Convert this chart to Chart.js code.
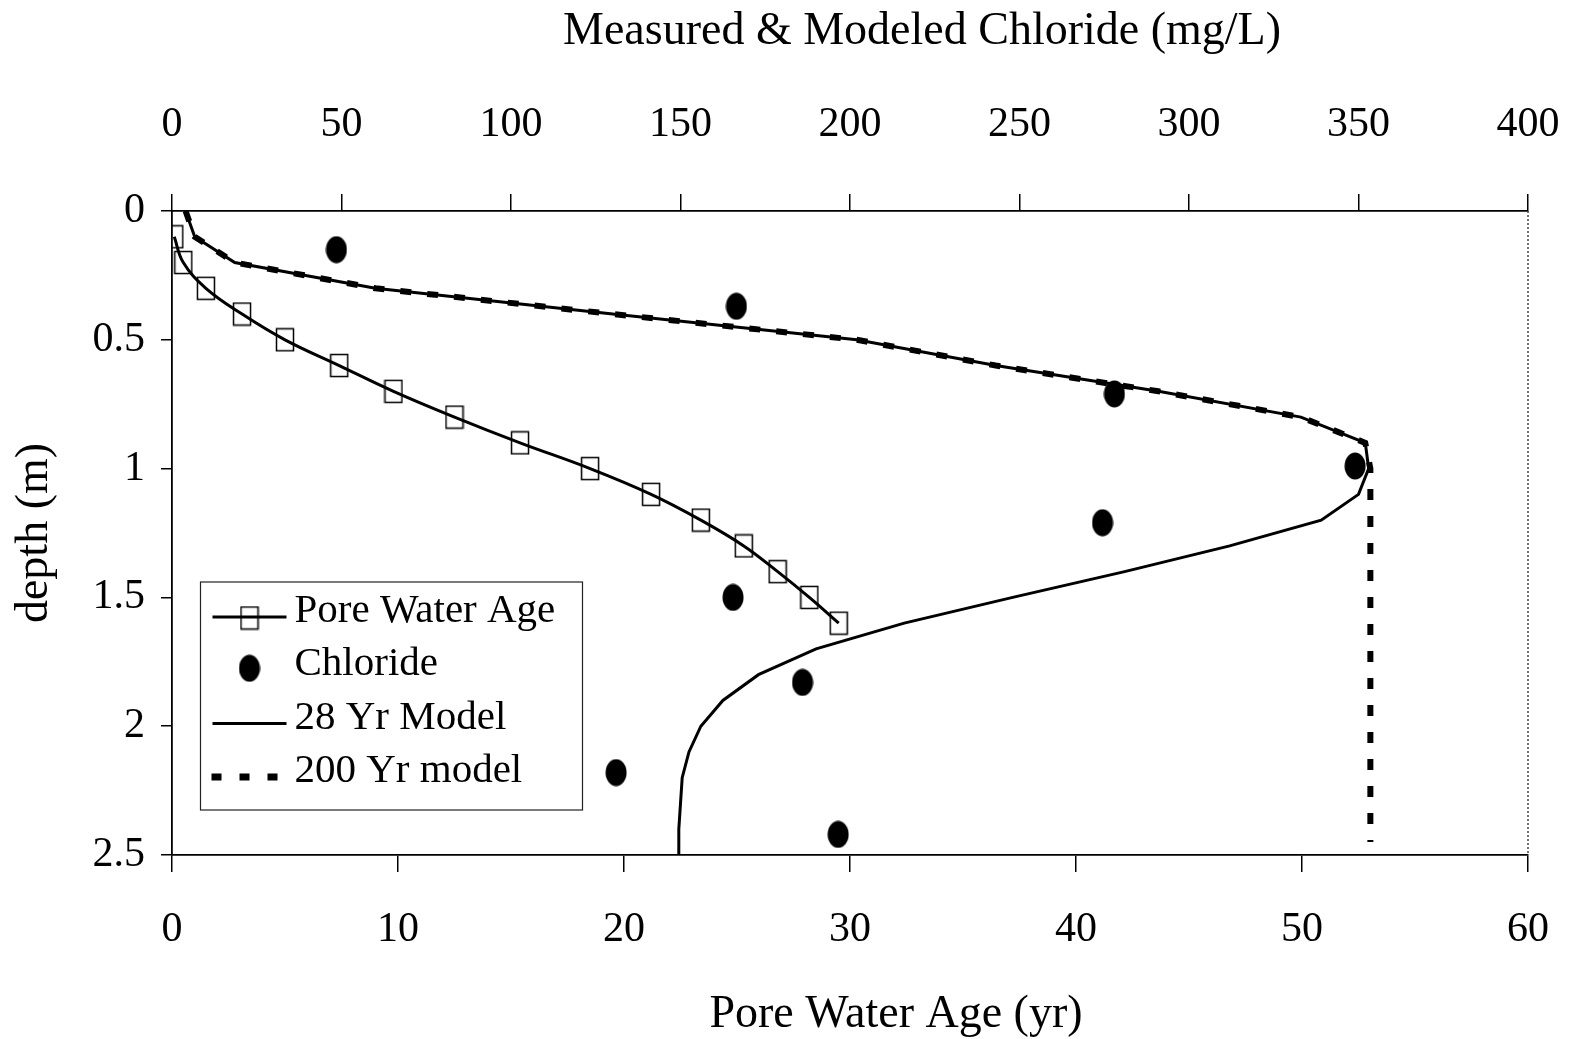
<!DOCTYPE html>
<html>
<head>
<meta charset="utf-8">
<title>Pore water age and chloride profile</title>
<script src="https://cdn.jsdelivr.net/npm/chart.js@4.4.1/dist/chart.umd.min.js"></script>
<style>
  html, body { margin: 0; padding: 0; background: #fff; }
</style>
</head>
<body>
<canvas id="myChart" width="1574" height="1039"></canvas>
<script>
/* profile data */

// pore water age (yr), one sample every 0.1 m
const ageDepth = [0.1, 0.2, 0.3, 0.4, 0.5, 0.6, 0.7, 0.8, 0.9, 1.0, 1.1, 1.2, 1.3, 1.4, 1.5, 1.6];
const poreAge = [0.1, 0.5, 1.5, 3.1, 5.0, 7.4, 9.8, 12.5, 15.4, 18.5, 21.2, 23.4, 25.3, 26.8, 28.2, 29.5];

// measured chloride (mg/L)
const clDepth = [0.15, 0.37, 0.71, 0.99, 1.21, 1.50, 1.83, 2.18, 2.42];
const clValue = [48.5, 166.5, 278, 349, 274.5, 165.5, 186, 131, 196.5];

// modeled chloride (mg/L)
const modelDepth = [0, 0.1, 0.2, 0.3, 0.4, 0.5, 0.6, 0.7, 0.8, 0.9, 1.0, 1.1, 1.2,
  1.3, 1.4, 1.5, 1.6, 1.7, 1.8, 1.9, 2.0, 2.1, 2.2, 2.3, 2.4, 2.5];
const model28 = [4, 6.7, 18.5, 60, 130, 202, 243, 291, 333, 352, 353, 350, 339,
  312, 281, 248, 216, 190, 173, 162.5, 156, 152.5, 150.5, 150, 149.5, 149.5];
const model200Depth = [0, 0.1, 0.2, 0.3, 0.4, 0.5, 0.6, 0.7, 0.8, 0.9, 1.0, 2.45];
const model200 = [4, 6.7, 18.5, 60, 130, 202, 243, 291, 333, 352, 353.5, 353.5];

// axis ticks
const ageTicks = { min: 0, max: 60, step: 10 };
const clTicks = { min: 0, max: 400, step: 50 };
const depthTicks = { min: 0, max: 2.5, step: 0.5 };

const labels = ['Pore Water Age', 'Chloride', '28 Yr Model', '200 Yr model'];
const topTitle = 'Measured & Modeled Chloride (mg/L)';
const bottomTitle = 'Pore Water Age (yr)';

/* helpers */

const serif = "'Liberation Serif', 'Times New Roman', serif";

function pairs(xs, ys) {
  return xs.map(function(x, i) { return { x: x, y: ys[i] }; });
}

function makeMarker(w, h, draw) {
  const c = document.createElement('canvas');
  c.width = w;
  c.height = h;
  draw(c.getContext('2d'));
  return c;
}

// open tall square for the age samples
const squareMark = makeMarker(20, 25, function(g) {
  g.strokeStyle = '#000';
  g.lineWidth = 1.5;
  g.strokeRect(1.5, 1.5, 17, 22);
});

// filled oval for the chloride samples
const dotMark = makeMarker(22, 28, function(g) {
  g.fillStyle = '#000';
  g.beginPath();
  g.ellipse(11, 14, 10.5, 13.5, 0, 0, Math.PI * 2);
  g.fill();
});

// fixed axis band sizes; side paddings dropped so the plot keeps its width
function fixHeight(h) {
  return function(s) {
    s.height = h;
    s.paddingLeft = 0;
    s.paddingRight = 0;
  };
}

/* frame edge, off-centre axis titles, legend box */

const frameAndLegend = {
  id: 'frameAndLegend',
  afterDraw(chart) {
    const ctx = chart.ctx;
    const a = chart.chartArea;
    ctx.save();

    // dotted right edge
    ctx.strokeStyle = '#444';
    ctx.lineWidth = 1.5;
    ctx.setLineDash([2, 2]);
    ctx.beginPath();
    ctx.moveTo(a.right, a.top);
    ctx.lineTo(a.right, a.bottom);
    ctx.stroke();
    ctx.setLineDash([]);

    // x axis titles sit right of the plot centre
    ctx.font = '46px ' + serif;
    ctx.fillStyle = '#000';
    ctx.textAlign = 'center';
    ctx.textBaseline = 'middle';
    ctx.fillText(topTitle, a.left + 750, 31.5);
    ctx.fillText(bottomTitle, a.left + 724, chart.height - 24);

    // legend
    const bx = a.left + 28.5;
    const by = a.top + 371;
    ctx.fillStyle = '#fff';
    ctx.fillRect(bx, by, 382, 228);
    ctx.strokeStyle = '#222';
    ctx.lineWidth = 1.2;
    ctx.strokeRect(bx, by, 382, 228);

    ctx.font = '41px ' + serif;
    ctx.fillStyle = '#000';
    ctx.textBaseline = 'alphabetic';
    ctx.textAlign = 'left';

    const x0 = bx + 12;
    const x1 = bx + 86;
    const mid = (x0 + x1) / 2;
    for (let i = 0; i < labels.length; i++) {
      const base = by + 40 + i * 53.3;
      const sy = base - 5;
      ctx.strokeStyle = '#000';
      if (i === 0 || i === 2) {
        ctx.lineWidth = 3;
        ctx.beginPath();
        ctx.moveTo(x0, sy);
        ctx.lineTo(x1, sy);
        ctx.stroke();
      }
      if (i === 0) {
        ctx.drawImage(squareMark, mid - squareMark.width / 2, sy - squareMark.height / 2 + 1);
      }
      if (i === 1) {
        ctx.drawImage(dotMark, mid - dotMark.width / 2, sy - dotMark.height / 2 - 2);
      }
      if (i === 3) {
        ctx.lineWidth = 7;
        ctx.setLineDash([10, 18]);
        ctx.beginPath();
        ctx.moveTo(x0 - 1, sy);
        ctx.lineTo(x1, sy);
        ctx.stroke();
        ctx.setLineDash([]);
      }
      ctx.fillText(labels[i], bx + 94, base);
    }
    ctx.restore();
  }
};

/* chart */

const tickFont = { family: serif, size: 42 };
const titleFont = { family: serif, size: 46 };
const axisGrid = { drawOnChartArea: false, color: '#000', lineWidth: 1.5, tickLength: 17 };
const axisBorder = { color: '#000', width: 1.8 };

const ctx = document.getElementById('myChart').getContext('2d');

// eslint-disable-next-line no-undef
const chart = new Chart(ctx, {
  type: 'line',
  data: {
    datasets: [{
      label: labels[1],
      data: pairs(clValue, clDepth),
      xAxisID: 'x2',
      yAxisID: 'y',
      showLine: false,
      pointStyle: dotMark,
      pointRadius: 12,
      order: 0,
    },
    {
      label: labels[0],
      data: pairs(poreAge, ageDepth),
      xAxisID: 'x',
      yAxisID: 'y',
      borderColor: '#000',
      borderWidth: 3,
      tension: 0.4,
      pointStyle: squareMark,
      pointRadius: 10,
      order: 1,
    },
    {
      label: labels[3],
      data: pairs(model200, model200Depth),
      xAxisID: 'x2',
      yAxisID: 'y',
      borderColor: '#000',
      borderWidth: 6,
      borderDash: [11, 16],
      borderCapStyle: 'butt',
      pointRadius: 0,
      tension: 0,
      order: 2,
    },
    {
      label: labels[2],
      data: pairs(model28, modelDepth),
      xAxisID: 'x2',
      yAxisID: 'y',
      borderColor: '#000',
      borderWidth: 3,
      pointRadius: 0,
      tension: 0,
      order: 3,
    }]
  },
  options: {
    responsive: false,
    animation: false,
    layout: { padding: { top: 0, right: 46, bottom: 0, left: 0 } },
    plugins: {
      legend: { display: false },
      tooltip: { enabled: false },
    },
    scales: {
      x: {
        type: 'linear',
        position: 'bottom',
        min: ageTicks.min,
        max: ageTicks.max,
        ticks: { stepSize: ageTicks.step, padding: 33, font: tickFont, color: '#000', maxRotation: 0 },
        grid: axisGrid,
        border: axisBorder,
        afterFit: fixHeight(184),
      },
      x2: {
        type: 'linear',
        position: 'top',
        min: clTicks.min,
        max: clTicks.max,
        ticks: { stepSize: clTicks.step, padding: 44, font: tickFont, color: '#000', maxRotation: 0 },
        grid: axisGrid,
        border: axisBorder,
        afterFit: fixHeight(211),
      },
      y: {
        type: 'linear',
        position: 'left',
        reverse: true,
        min: depthTicks.min,
        max: depthTicks.max,
        ticks: {
          stepSize: depthTicks.step,
          padding: 16,
          font: tickFont,
          color: '#000',
          callback: function(v) { return String(v); },
        },
        grid: Object.assign({}, axisGrid, { tickLength: 11 }),
        border: axisBorder,
        title: { display: true, text: 'depth (m)', font: titleFont, color: '#000', padding: { top: 7, bottom: 0 } },
        afterFit: function(s) {
          s.width = 172;
          s.paddingTop = 0;
          s.paddingBottom = 0;
        },
      }
    }
  },
  plugins: [frameAndLegend],
});
</script>
</body>
</html>
